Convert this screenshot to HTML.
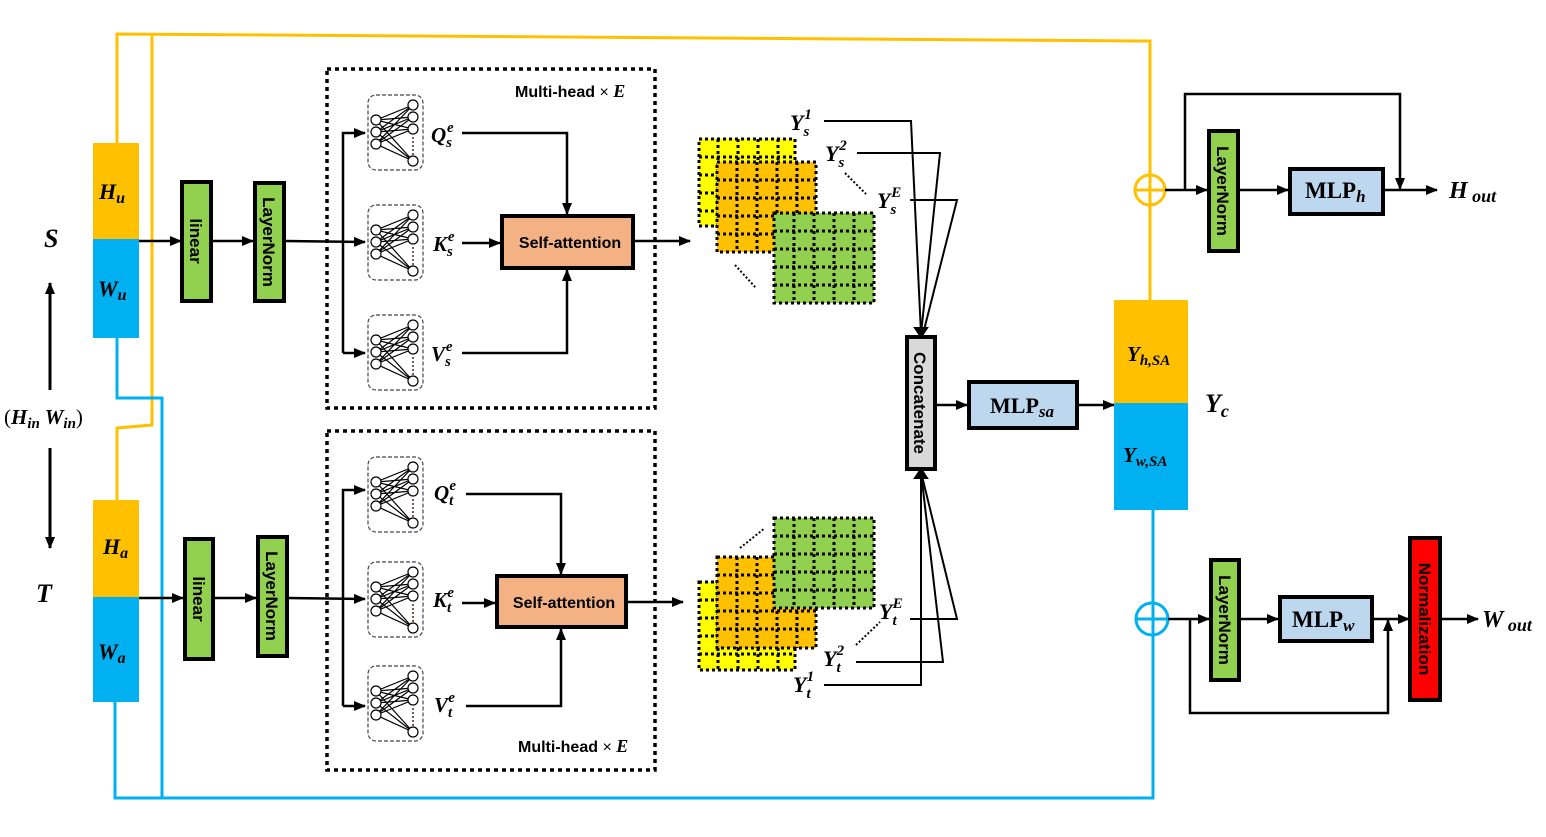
<!DOCTYPE html>
<html><head><meta charset="utf-8"><style>
html,body{margin:0;padding:0;background:#fff}
svg{display:block}
.m{font-family:"Liberation Serif",serif;font-weight:bold;font-style:italic}
.r{font-family:"Liberation Sans",sans-serif;font-size:17px;font-weight:bold}
</style></head><body>
<svg width="1546" height="837" viewBox="0 0 1546 837" xmlns="http://www.w3.org/2000/svg">
<defs>
<marker id="a" markerWidth="12" markerHeight="10" refX="11" refY="5" orient="auto" markerUnits="userSpaceOnUse"><path d="M0,0 L12,5 L0,10 z" fill="#000"/></marker>
<g id="net">
<rect x="0" y="0" width="55" height="75" rx="8" fill="none" stroke="#445" stroke-width="1.2" stroke-dasharray="4,2"/>
<g stroke="#000" stroke-width="1.2">
<path d="M8,25 L45,10 M8,25 L45,22 M8,25 L45,34 M8,25 L45,66 M8,37 L45,10 M8,37 L45,22 M8,37 L45,34 M8,37 L45,66 M8,49 L45,10 M8,49 L45,22 M8,49 L45,34 M8,49 L45,66"/>
</g>
<g fill="#fff" stroke="#000" stroke-width="1.2">
<circle cx="8" cy="25" r="5"/><circle cx="8" cy="37" r="5"/><circle cx="8" cy="49" r="5"/>
<circle cx="45" cy="10" r="5"/><circle cx="45" cy="22" r="5"/><circle cx="45" cy="34" r="5"/><circle cx="45" cy="66" r="5"/>
</g>
<path d="M45,42 L45,60" stroke="#522" stroke-width="1.5" stroke-dasharray="2,2"/>
</g>
</defs>

<g fill="none" stroke-width="3">
<path d="M117,143 L117,34 L1150,41 L1150,300" stroke="#FFC000"/>
<path d="M152,34 L152,425 L117,428 L117,500" stroke="#FFC000"/>
<path d="M117,338 L117,398 L162,398 L162,798" stroke="#00B0F0"/>
<path d="M115,702 L115,798 L1153,798 L1153,510" stroke="#00B0F0"/>
</g>

<rect x="93" y="143" width="46" height="96" fill="#FFC000"/>
<rect x="93" y="239" width="46" height="99" fill="#00B0F0"/>
<rect x="93" y="500" width="46" height="97" fill="#FFC000"/>
<rect x="93" y="597" width="46" height="105" fill="#00B0F0"/>
<text class="m" x="99" y="199" font-size="22">H<tspan font-size="16" dy="4">u</tspan></text>
<text class="m" x="98" y="296" font-size="22">W<tspan font-size="16" dy="4">u</tspan></text>
<text class="m" x="103" y="554" font-size="22">H<tspan font-size="16" dy="4">a</tspan></text>
<text class="m" x="98" y="659" font-size="22">W<tspan font-size="16" dy="4">a</tspan></text>
<text class="m" x="44" y="247" font-size="26">S</text>
<text class="m" x="36" y="602" font-size="26">T</text>
<text class="m" x="4" y="424" font-size="21"><tspan font-style="normal" font-weight="normal">(</tspan>H<tspan font-size="15" dy="4">in</tspan><tspan dy="-4"> W</tspan><tspan font-size="15" dy="4">in</tspan><tspan dy="-4" font-style="normal" font-weight="normal">)</tspan></text>
<line x1="50" y1="390" x2="50" y2="283" stroke="#000" stroke-width="3" marker-end="url(#a)"/>
<line x1="50" y1="448" x2="50" y2="548" stroke="#000" stroke-width="3" marker-end="url(#a)"/>

<g stroke="#000" stroke-width="4" fill="#92D050">
<rect x="182" y="182" width="29" height="119"/>
<rect x="255" y="183" width="29" height="118"/>
<rect x="185" y="539" width="28" height="120"/>
<rect x="258" y="537" width="29" height="119"/>
</g>
<text class="r" transform="translate(190,241) rotate(90)" text-anchor="middle">linear</text>
<text class="r" transform="translate(263,242) rotate(90)" text-anchor="middle">LayerNorm</text>
<text class="r" transform="translate(193,599) rotate(90)" text-anchor="middle">linear</text>
<text class="r" transform="translate(266,596) rotate(90)" text-anchor="middle">LayerNorm</text>
<g stroke="#000" stroke-width="2.5" fill="none">
<line x1="139" y1="241" x2="181" y2="241" marker-end="url(#a)"/>
<line x1="212" y1="241" x2="253" y2="241" marker-end="url(#a)"/>
<line x1="285" y1="241" x2="365" y2="242" marker-end="url(#a)"/>
<path d="M343,353 L343,133 L365,133" marker-end="url(#a)"/>
<line x1="343" y1="353" x2="365" y2="353" marker-end="url(#a)"/>
<line x1="139" y1="598" x2="183" y2="598" marker-end="url(#a)"/>
<line x1="214" y1="598" x2="256" y2="598" marker-end="url(#a)"/>
<line x1="288" y1="598" x2="365" y2="599" marker-end="url(#a)"/>
<path d="M343,706 L343,490 L365,490" marker-end="url(#a)"/>
<line x1="343" y1="706" x2="365" y2="706" marker-end="url(#a)"/>
</g>

<rect x="327" y="69" width="328" height="339" fill="none" stroke="#000" stroke-width="3.5" stroke-dasharray="4,4"/>
<rect x="327" y="431" width="328" height="339" fill="none" stroke="#000" stroke-width="3.5" stroke-dasharray="4,4"/>
<text x="515" y="97" font-family="Liberation Sans" font-size="16" font-weight="bold">Multi-head <tspan font-weight="normal">×</tspan> <tspan class="m" font-size="18">E</tspan></text>
<text x="518" y="752" font-family="Liberation Sans" font-size="16" font-weight="bold">Multi-head <tspan font-weight="normal">×</tspan> <tspan class="m" font-size="18">E</tspan></text>

<use href="#net" x="368" y="95"/>
<use href="#net" x="368" y="205"/>
<use href="#net" x="368" y="315"/>
<use href="#net" x="368" y="457"/>
<use href="#net" x="368" y="562"/>
<use href="#net" x="368" y="666"/>

<g class="m" font-size="21">
<text x="431" y="142">Q<tspan font-size="15" dy="5">s</tspan><tspan font-size="15" dx="-5" dy="-15">e</tspan></text>
<text x="433" y="251">K<tspan font-size="15" dy="5">s</tspan><tspan font-size="15" dx="-5" dy="-15">e</tspan></text>
<text x="431" y="361">V<tspan font-size="15" dy="5">s</tspan><tspan font-size="15" dx="-5" dy="-15">e</tspan></text>
<text x="434" y="500">Q<tspan font-size="15" dy="5">t</tspan><tspan font-size="15" dx="-4" dy="-15">e</tspan></text>
<text x="433" y="607">K<tspan font-size="15" dy="5">t</tspan><tspan font-size="15" dx="-4" dy="-15">e</tspan></text>
<text x="434" y="712">V<tspan font-size="15" dy="5">t</tspan><tspan font-size="15" dx="-4" dy="-15">e</tspan></text>
</g>

<rect x="502" y="216" width="131" height="52" fill="#F4B183" stroke="#000" stroke-width="4"/>
<text x="570" y="248" text-anchor="middle" font-family="Liberation Sans" font-size="16" font-weight="bold">Self-attention</text>
<rect x="497" y="576" width="129" height="51" fill="#F4B183" stroke="#000" stroke-width="4"/>
<text x="564" y="608" text-anchor="middle" font-family="Liberation Sans" font-size="16" font-weight="bold">Self-attention</text>

<g stroke="#000" stroke-width="2.5" fill="none">
<path d="M462,133 L567,133 L567,214" marker-end="url(#a)"/>
<line x1="462" y1="243" x2="500" y2="243" marker-end="url(#a)"/>
<path d="M462,353 L567,353 L567,270" marker-end="url(#a)"/>
<line x1="634" y1="241" x2="690" y2="241" marker-end="url(#a)"/>
<path d="M466,494 L561,494 L561,574" marker-end="url(#a)"/>
<line x1="462" y1="603" x2="495" y2="603" marker-end="url(#a)"/>
<path d="M466,706 L561,706 L561,629" marker-end="url(#a)"/>
<line x1="627" y1="602" x2="683" y2="602" marker-end="url(#a)"/>
</g>

<g stroke="#000" stroke-width="3" stroke-dasharray="3,3">
<rect x="699" y="139" width="96" height="87" fill="#FFFF00"/>
<path d="M718,139V226M738,139V226M758,139V226M778,139V226M699,157H795M699,175H795M699,193H795M699,211H795" fill="none"/>
<rect x="717" y="162" width="99" height="90" fill="#FFC000"/>
<path d="M737,162V252M757,162V252M777,162V252M797,162V252M717,180H816M717,198H816M717,216H816M717,234H816" fill="none"/>
<rect x="774" y="213" width="100" height="90" fill="#92D050"/>
<path d="M794,213V303M814,213V303M834,213V303M854,213V303M774,231H874M774,249H874M774,267H874M774,285H874" fill="none"/>

<rect x="699" y="582" width="96" height="88" fill="#FFFF00"/>
<path d="M718,582V670M738,582V670M758,582V670M778,582V670M699,600H795M699,618H795M699,636H795M699,654H795" fill="none"/>
<rect x="717" y="557" width="99" height="91" fill="#FFC000"/>
<path d="M737,557V648M757,557V648M777,557V648M797,557V648M717,575H816M717,593H816M717,611H816M717,629H816" fill="none"/>
<rect x="774" y="518" width="100" height="90" fill="#92D050"/>
<path d="M794,518V608M814,518V608M834,518V608M854,518V608M774,536H874M774,554H874M774,572H874M774,590H874" fill="none"/>
</g>
<g stroke="#000" stroke-width="2" stroke-dasharray="2,2">
<line x1="735" y1="265" x2="756" y2="288"/>
<line x1="845" y1="173" x2="866" y2="194"/>
<line x1="740" y1="548" x2="765" y2="528"/>
<line x1="856" y1="645" x2="880" y2="622"/>
</g>

<g class="m" font-size="22">
<text x="790" y="130">Y<tspan font-size="15" dy="6">s</tspan><tspan font-size="15" dx="-5" dy="-17">1</tspan></text>
<text x="825" y="161">Y<tspan font-size="15" dy="6">s</tspan><tspan font-size="15" dx="-5" dy="-17">2</tspan></text>
<text x="877" y="208">Y<tspan font-size="15" dy="6">s</tspan><tspan font-size="15" dx="-5" dy="-17">E</tspan></text>
<text x="879" y="619">Y<tspan font-size="15" dy="6">t</tspan><tspan font-size="15" dx="-4" dy="-17">E</tspan></text>
<text x="823" y="666">Y<tspan font-size="15" dy="6">t</tspan><tspan font-size="15" dx="-4" dy="-17">2</tspan></text>
<text x="793" y="692">Y<tspan font-size="15" dy="6">t</tspan><tspan font-size="15" dx="-4" dy="-17">1</tspan></text>
</g>
<g stroke="#000" stroke-width="2" fill="none">
<path d="M824,121 L911,121 L921,334"/>
<path d="M857,153 L940,153 L921,334"/>
<path d="M910,200 L957,200 L923,334"/>
<path d="M910,619 L957,619 L921,472"/>
<path d="M856,662 L943,662 L921,472"/>
<path d="M824,685 L921,685 L921,472"/>
<path d="M915,328 L921,337 L927,328 z" fill="#000"/>
<path d="M915,478 L921,469 L927,478 z" fill="#000"/>
</g>

<rect x="907" y="337" width="28" height="132" fill="#D9D9D9" stroke="#000" stroke-width="4"/>
<text class="r" transform="translate(914,403) rotate(90)" text-anchor="middle">Concatenate</text>
<line x1="936" y1="405" x2="967" y2="405" stroke="#000" stroke-width="2.5" marker-end="url(#a)"/>
<rect x="969" y="382" width="108" height="46" fill="#BDD7EE" stroke="#000" stroke-width="4"/>
<text x="990" y="413" font-family="Liberation Serif" font-size="22" font-weight="bold">MLP<tspan class="m" font-size="17" dy="4">sa</tspan></text>
<line x1="1078" y1="405" x2="1114" y2="405" stroke="#000" stroke-width="2.5" marker-end="url(#a)"/>

<rect x="1114" y="300" width="74" height="103" fill="#FFC000"/>
<rect x="1114" y="403" width="74" height="107" fill="#00B0F0"/>
<text class="m" x="1127" y="361" font-size="21">Y<tspan font-size="15" dy="4">h,SA</tspan></text>
<text class="m" x="1123" y="462" font-size="21">Y<tspan font-size="15" dy="4">w,SA</tspan></text>
<text class="m" x="1205" y="412" font-size="26">Y<tspan font-size="18" dy="5">c</tspan></text>

<circle cx="1150" cy="190" r="15" fill="none" stroke="#FFC000" stroke-width="3"/>
<line x1="1135" y1="190" x2="1165" y2="190" stroke="#FFC000" stroke-width="3"/>
<g stroke="#000" stroke-width="2.5" fill="none">
<line x1="1165" y1="190" x2="1207" y2="190" marker-end="url(#a)"/>
<path d="M1185,190 L1185,94 L1400,94 L1400,189" marker-end="url(#a)"/>
<line x1="1239" y1="190" x2="1288" y2="190" marker-end="url(#a)"/>
<line x1="1383" y1="190" x2="1437" y2="190" marker-end="url(#a)"/>
</g>
<rect x="1209" y="131" width="29" height="120" fill="#92D050" stroke="#000" stroke-width="4"/>
<text class="r" transform="translate(1217,191) rotate(90)" text-anchor="middle">LayerNorm</text>
<rect x="1290" y="169" width="93" height="45" fill="#BDD7EE" stroke="#000" stroke-width="4"/>
<text x="1305" y="198" font-family="Liberation Serif" font-size="23" font-weight="bold">MLP<tspan class="m" font-size="17" dy="4">h</tspan></text>
<text class="m" x="1449" y="198" font-size="24">H<tspan font-size="18" dy="4"> out</tspan></text>

<circle cx="1152" cy="619" r="16" fill="none" stroke="#00B0F0" stroke-width="3"/>
<line x1="1136" y1="619" x2="1168" y2="619" stroke="#00B0F0" stroke-width="3"/>
<g stroke="#000" stroke-width="2.5" fill="none">
<line x1="1168" y1="619" x2="1209" y2="619" marker-end="url(#a)"/>
<path d="M1190,619 L1190,713 L1388,713 L1388,620" marker-end="url(#a)"/>
<line x1="1240" y1="619" x2="1278" y2="619" marker-end="url(#a)"/>
<line x1="1373" y1="619" x2="1409" y2="619" marker-end="url(#a)"/>
<line x1="1440" y1="619" x2="1478" y2="619" marker-end="url(#a)"/>
</g>
<rect x="1211" y="560" width="28" height="120" fill="#92D050" stroke="#000" stroke-width="4"/>
<text class="r" transform="translate(1219,620) rotate(90)" text-anchor="middle">LayerNorm</text>
<rect x="1280" y="597" width="92" height="44" fill="#BDD7EE" stroke="#000" stroke-width="4"/>
<text x="1292" y="627" font-family="Liberation Serif" font-size="23" font-weight="bold">MLP<tspan class="m" font-size="17" dy="4">w</tspan></text>
<rect x="1410" y="538" width="30" height="162" fill="#FF0000" stroke="#000" stroke-width="4"/>
<text class="r" transform="translate(1419,619) rotate(90)" text-anchor="middle">Normalization</text>
<text class="m" x="1482" y="627" font-size="24">W<tspan font-size="18" dy="4"> out</tspan></text>
</svg>
</body></html>
